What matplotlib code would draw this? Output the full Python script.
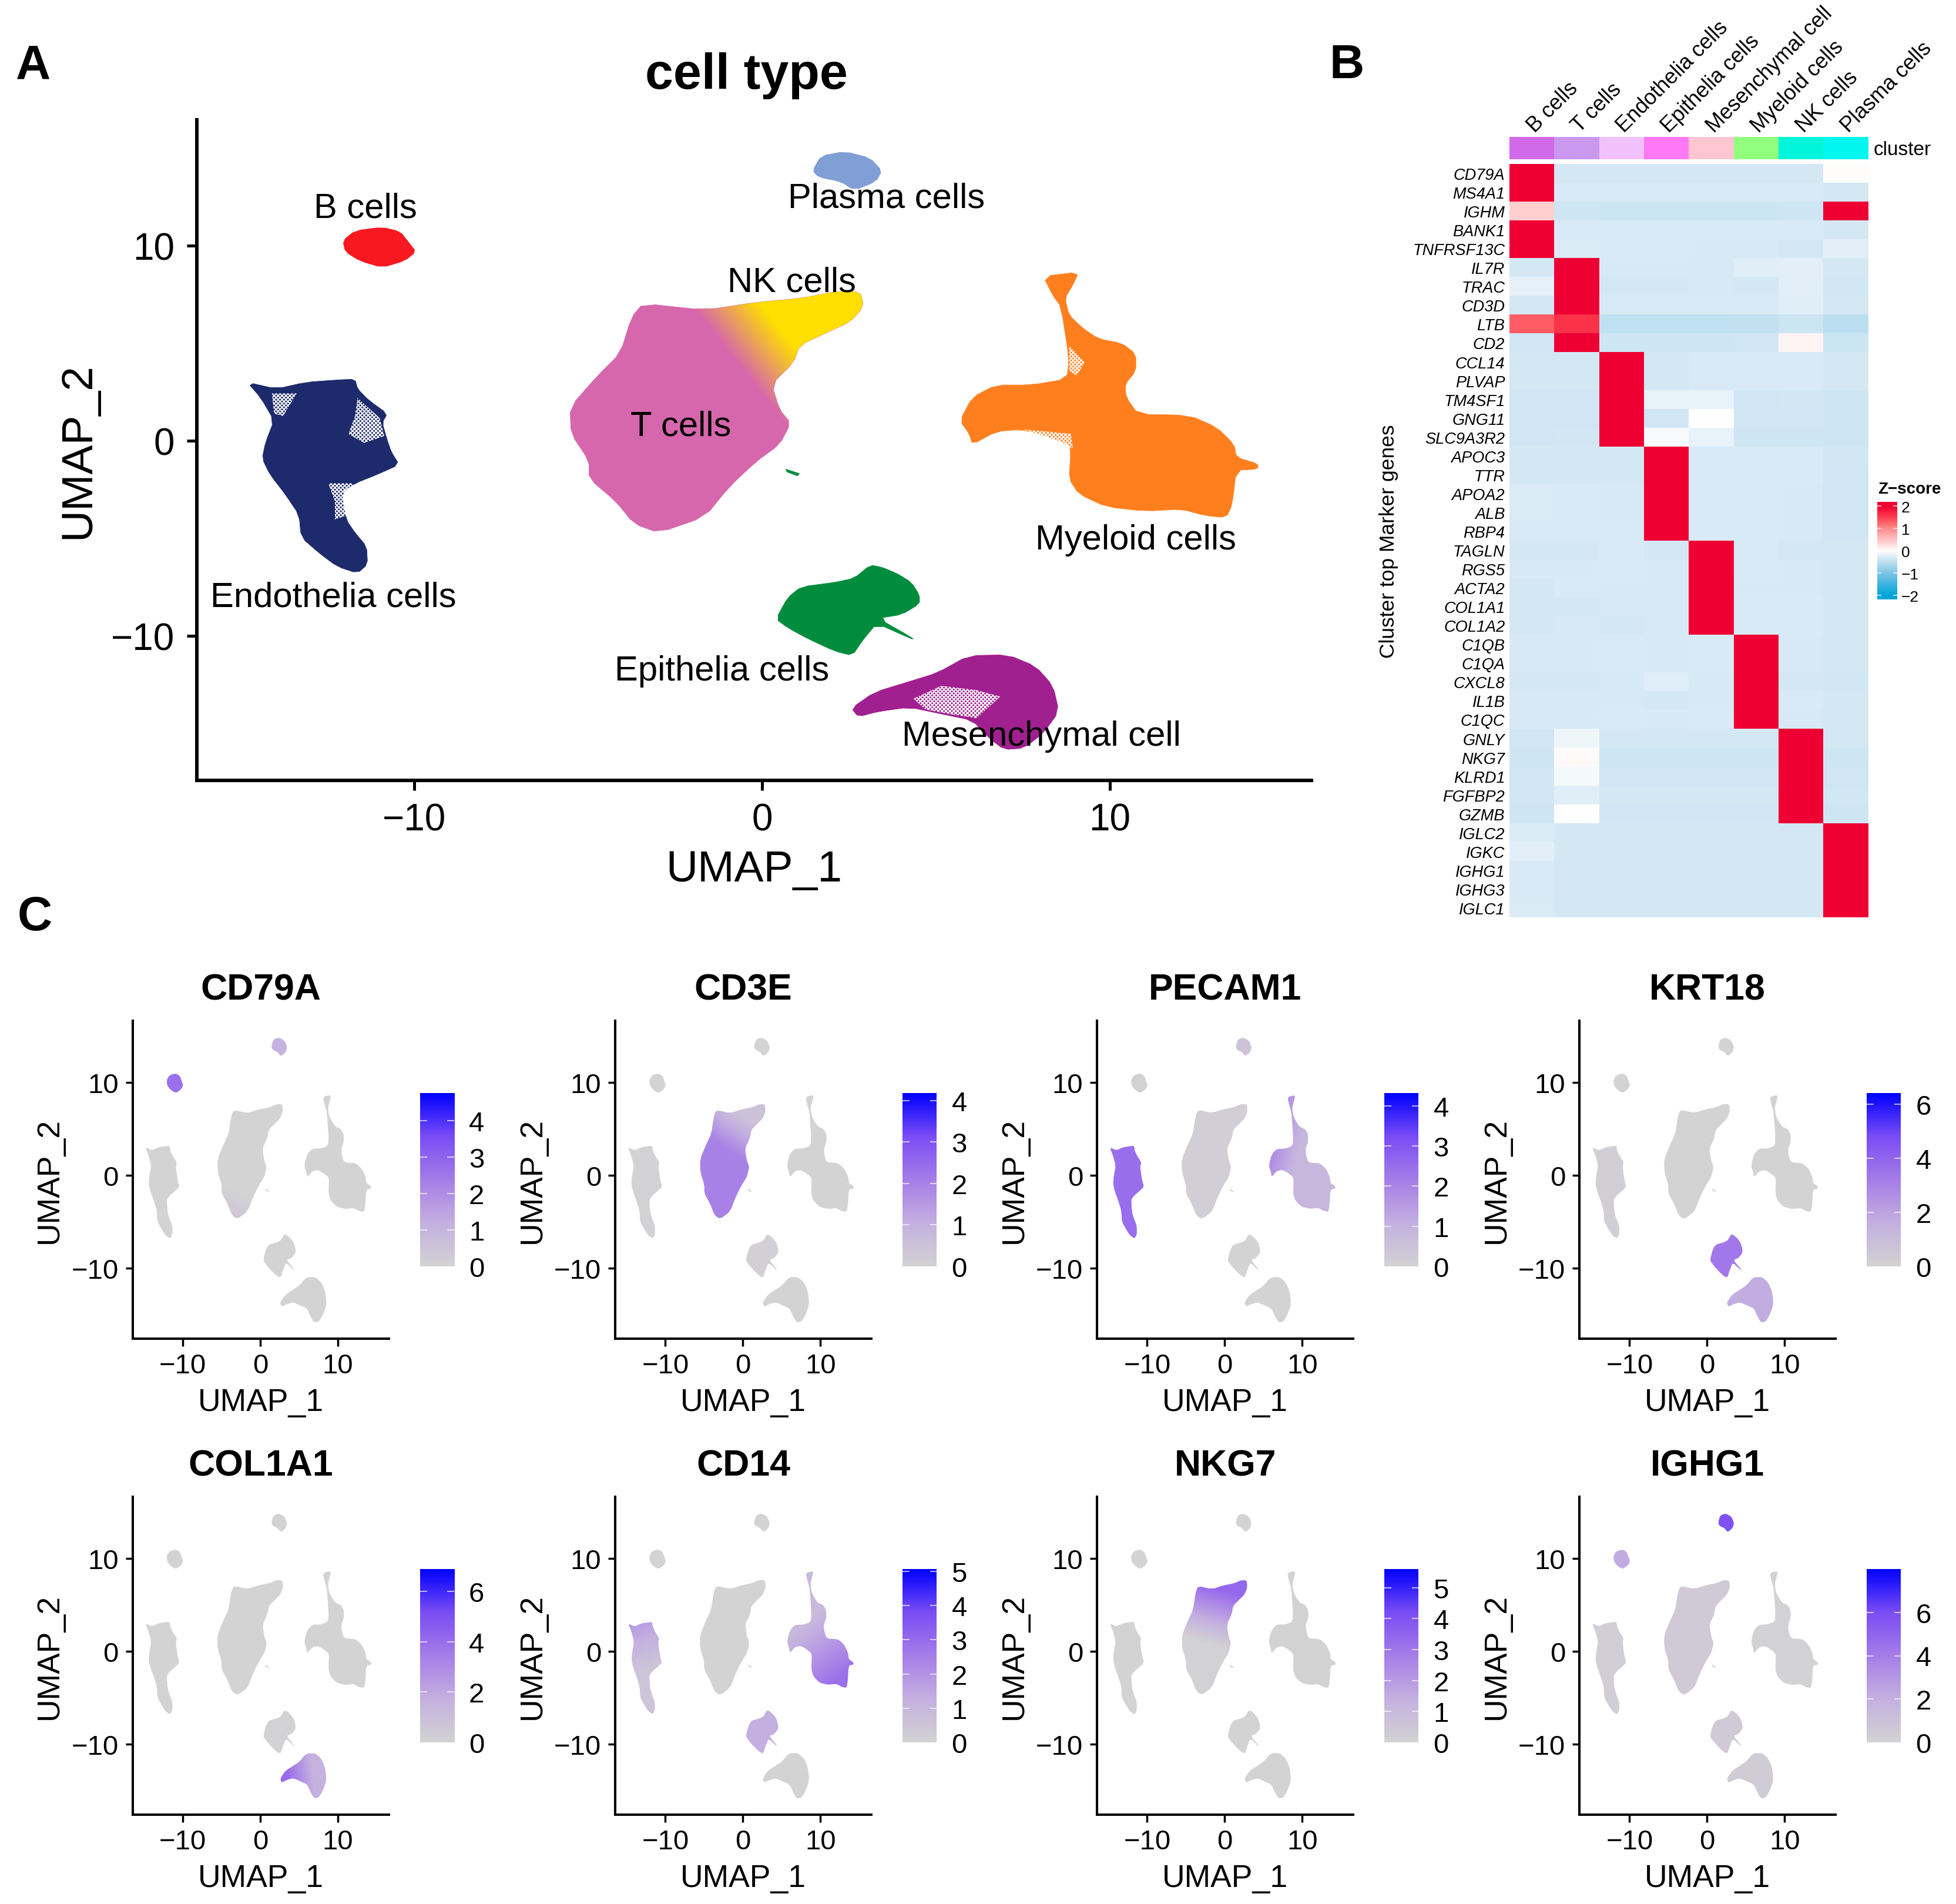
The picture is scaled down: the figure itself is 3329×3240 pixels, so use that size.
import numpy as np
import matplotlib
matplotlib.use("Agg")
import matplotlib.pyplot as plt
from matplotlib.colors import LinearSegmentedColormap, ListedColormap
from matplotlib.patches import Polygon
from matplotlib.transforms import ScaledTranslation

plt.rcParams['font.family'] = ['Liberation Sans', 'DejaVu Sans']
plt.rcParams['hatch.linewidth'] = 1.3

W, H = 3329, 3241
DPI = 100

# ---------- cluster outlines in UMAP coordinates ----------
B_CELLS = [(-12.05,10.26),(-11.70,10.77),(-10.92,10.95),(-10.40,10.72),(-10.15,10.15),(-9.95,9.69),
           (-10.27,9.23),(-10.92,8.88),(-11.57,9.23),(-11.98,9.69)]
ENDOTHELIA = [(-14.80,3.00),(-13.96,2.66),(-13.12,3.0),(-12.21,3.12),(-11.70,3.16),(-11.63,2.66),(-11.31,2.08),
              (-10.77,1.39),(-10.92,0.93),(-10.79,0.12),(-10.66,-0.57),(-10.43,-1.22),(-11.05,-1.72),(-11.70,-2.18),
              (-12.09,-2.65),(-11.96,-4.03),(-11.70,-4.72),(-11.37,-5.41),(-11.34,-6.33),(-11.63,-6.79),(-12.21,-6.45),
              (-12.73,-5.76),(-13.25,-4.95),(-13.31,-3.8),(-13.70,-2.76),(-14.15,-1.72),(-14.37,-0.92),(-14.28,-0.11),
              (-14.03,1.04),(-14.41,2.2)]
T_NK = [(-1.64,6.70),(-0.17,7.10),(1.19,7.32),(2.10,7.65),(2.83,7.65),(2.92,6.88),(2.55,6.11),(1.87,5.55),(1.08,4.89),
        (0.91,4.01),(0.28,2.90),(0.51,1.58),(0.83,0.92),(0.51,-0.19),(-0.17,-1.07),(-0.96,-2.40),(-1.64,-3.9),
        (-2.97,-4.72),(-3.68,-4.26),(-4.20,-3.11),(-4.97,-1.95),(-4.97,-1.03),(-5.49,0.35),(-5.52,1.73),(-4.72,3.35),
        (-4.07,4.50),(-3.75,6.34),(-3.42,7.04)]
PLASMA = [(1.45,13.84),(1.70,14.61),(2.38,14.83),(3.11,14.50),(3.45,13.84),(3.28,13.29),(2.66,12.84),(2.26,13.29),(1.64,13.51)]
MYELOID = [(8.09,8.43),(9.11,8.65),(8.94,7.98),(8.71,7.32),(8.83,6.44),(9.22,5.78),(9.68,5.22),(10.35,5.0),(10.75,4.45),
           (10.75,3.57),(10.44,2.90),(10.47,2.24),(10.81,1.36),(12.28,1.31),(13.07,0.70),(13.58,-0.19),(13.64,-0.85),
           (14.26,-1.18),(14.26,-1.45),(13.64,-1.51),(13.52,-3.28),(13.35,-3.94),(12.73,-3.83),(12.05,-3.50),(11.03,-3.61),
           (9.90,-3.39),(9.11,-2.73),(8.83,-1.96),(8.88,-0.63),(8.83,-0.19),(7.98,0.36),(7.41,0.58),(6.73,0.47),(6.05,-0.19),
           (5.96,0.36),(5.69,1.03),(6.05,2.24),(6.73,2.86),(7.75,2.86),(8.77,3.17),(8.83,4.23),(8.60,6.88),(8.37,7.43)]
EPITHELIA = [(0.40,-9.14),(0.74,-8.03),(1.13,-7.48),(2.10,-7.26),(2.66,-7.04),(3.11,-6.37),(3.45,-6.48),(3.90,-6.82),
             (4.30,-7.26),(4.53,-7.92),(4.53,-8.36),(4.02,-8.91),(3.34,-9.10),(4.36,-10.14),(4.30,-10.16),(3.30,-9.36),(2.89,-10.24),
             (2.60,-11.01),(2.10,-10.79),(1.30,-10.13),(0.74,-9.58)]
MESENCHYMAL = [(2.57,-13.71),(3.23,-12.89),(4.24,-12.34),(5.04,-11.90),(5.94,-11.01),(7.07,-10.97),(7.87,-11.56),(8.37,-12.56),
               (8.54,-13.88),(8.09,-14.99),(7.53,-15.76),(6.96,-15.83),(6.51,-15.21),(6.05,-14.33),(5.15,-14.0),(4.24,-13.66),
               (3.34,-13.88),(2.77,-14.15)]
EPITHELIA_SPECK = [(0.68,-1.45),(1.08,-1.68),(1.02,-1.80),(0.72,-1.60)]

# sparse, speckled zones inside the clusters
SPARSE_ZONES = [
    [(-11.63,2.2),(-10.99,1.16),(-10.86,0.24),(-11.44,-0.11),(-11.89,0.35),(-11.70,1.27)],
    [(-12.47,-2.18),(-11.76,-2.18),(-11.89,-3.8),(-12.28,-4.03),(-12.28,-3.1)],
    [(-14.09,2.43),(-13.38,2.43),(-13.77,1.27),(-14.03,1.39)],
    [(4.36,-13.22),(5.15,-12.56),(6.17,-12.78),(6.85,-13.11),(6.17,-14.22),(5.38,-14.0),(4.70,-13.77)],
    [(8.83,4.89),(9.28,4.01),(9.05,3.35),(8.83,3.57)],
    [(7.53,0.58),(8.88,0.36),(8.94,-0.41),(7.98,0.25)],
]

CLUSTER_OUTLINES = [B_CELLS, ENDOTHELIA, T_NK, PLASMA, MYELOID, EPITHELIA, MESENCHYMAL]
CLUSTER_COLOURS = ['#F8181F', '#1D2A6B', '#D667AC', '#80A0D5', '#FF7F1E', '#008C3C', '#A0208F']
NK_COLOUR = '#FFDF00'

MAIN_LABELS = ['B cells', 'Plasma cells', 'NK cells', 'T cells', 'Myeloid cells', 'Endothelia cells', 'Epithelia cells', 'Mesenchymal cell']
MAIN_LABEL_X = [-11.4, 3.58, 0.86, -2.33, 10.75, -12.33, -1.15, 8.03]
MAIN_LABEL_Y = [11.92, 12.43, 8.14, 0.77, -5.07, -8.01, -11.80, -15.13]

# ---------- heatmap ----------
GENES = ['CD79A','MS4A1','IGHM','BANK1','TNFRSF13C','IL7R','TRAC','CD3D','LTB','CD2','CCL14','PLVAP','TM4SF1','GNG11','SLC9A3R2',
         'APOC3','TTR','APOA2','ALB','RBP4','TAGLN','RGS5','ACTA2','COL1A1','COL1A2','C1QB','C1QA','CXCL8','IL1B','C1QC',
         'GNLY','NKG7','KLRD1','FGFBP2','GZMB','IGLC2','IGKC','IGHG1','IGHG3','IGLC1']
HEAT_COLUMNS = ['B cells','T cells','Endothelia cells','Epithelia cells','Mesenchymal cell','Myeloid cells','NK cells','Plasma cells']
HEAT_COLUMN_COLOURS = ['#D16AE9','#CB98F0','#F1C1FC','#FF79F6','#FFC5D0','#91FE7E','#00F5DA','#00F6EF']
HEAT_Z = [
 [2,-.34,-.34,-.34,-.34,-.34,-.34,.02],
 [2,-.31,-.31,-.31,-.31,-.31,-.31,-.33],
 [.38,-.39,-.40,-.40,-.40,-.40,-.39,2],
 [2,-.31,-.31,-.31,-.31,-.30,-.30,-.33],
 [2,-.29,-.31,-.31,-.32,-.32,-.33,-.22],
 [-.33,2,-.32,-.32,-.32,-.25,-.22,-.33],
 [-.20,2,-.33,-.33,-.32,-.33,-.22,-.35],
 [-.33,2,-.31,-.31,-.31,-.31,-.24,-.33],
 [1.3,1.6,-.50,-.50,-.50,-.47,-.40,-.52],
 [-.36,2,-.38,-.38,-.38,-.36,.09,-.40],
 [-.33,-.33,2,-.33,-.30,-.30,-.30,-.33],
 [-.34,-.33,2,-.33,-.30,-.31,-.31,-.34],
 [-.37,-.36,2,-.18,-.18,-.36,-.35,-.38],
 [-.36,-.36,2,-.37,0,-.36,-.36,-.38],
 [-.36,-.35,2,-.07,-.18,-.38,-.38,-.38],
 [-.33,-.33,-.33,2,-.30,-.30,-.30,-.35],
 [-.33,-.33,-.33,2,-.31,-.31,-.31,-.36],
 [-.29,-.31,-.32,2,-.31,-.31,-.32,-.37],
 [-.29,-.31,-.32,2,-.31,-.30,-.32,-.37],
 [-.31,-.31,-.31,2,-.31,-.30,-.32,-.36],
 [-.33,-.33,-.31,-.33,2,-.31,-.33,-.33],
 [-.32,-.32,-.31,-.32,2,-.31,-.32,-.33],
 [-.33,-.31,-.32,-.32,2,-.32,-.32,-.33],
 [-.33,-.33,-.32,-.32,2,-.31,-.31,-.33],
 [-.33,-.32,-.33,-.32,2,-.31,-.31,-.33],
 [-.32,-.32,-.31,-.32,-.31,2,-.32,-.33],
 [-.32,-.32,-.31,-.32,-.31,2,-.32,-.33],
 [-.33,-.33,-.32,-.26,-.32,2,-.34,-.35],
 [-.32,-.32,-.32,-.33,-.32,2,-.31,-.33],
 [-.32,-.32,-.31,-.32,-.31,2,-.32,-.33],
 [-.36,-.14,-.34,-.33,-.33,-.33,2,-.33],
 [-.38,.04,-.39,-.39,-.38,-.38,2,-.39],
 [-.36,-.09,-.37,-.36,-.36,-.36,2,-.36],
 [-.36,-.25,-.34,-.34,-.34,-.34,2,-.35],
 [-.39,-.01,-.37,-.37,-.37,-.37,2,-.38],
 [-.27,-.33,-.33,-.33,-.33,-.33,-.33,2],
 [-.23,-.33,-.33,-.33,-.33,-.33,-.33,2],
 [-.31,-.33,-.33,-.33,-.33,-.33,-.33,2],
 [-.31,-.33,-.33,-.33,-.33,-.33,-.33,2],
 [-.29,-.33,-.33,-.33,-.33,-.33,-.33,2],
]
Z_TICKS = [-2, -1, 0, 1, 2]

# ---------- feature panels: expression per cluster (B, Endothelia, T/NK, Plasma, Myeloid, Epithelia, Mesenchymal) ----------
PANEL_GENES = ['CD79A','CD3E','PECAM1','KRT18','COL1A1','CD14','NKG7','IGHG1']
PANEL_MAX = [4.75, 4.18, 4.32, 6.41, 6.9, 5.07, 5.6, 8.0]
PANEL_TICKS = [[0,1,2,3,4],[0,1,2,3,4],[0,1,2,3,4],[0,2,4,6],[0,2,4,6],[0,1,2,3,4,5],[0,1,2,3,4,5],[0,2,4,6]]
EXPR_CD79A = [2.7, 0, 0, 1.1, 0, 0, 0]
EXPR_CD3E = [0, 0.05, 1.9, 0, 0, 0.1, 0]
EXPR_PECAM1 = [0.05, 2.5, 0.15, 0.5, 0.9, 0, 0]
EXPR_KRT18 = [0, 0.2, 0, 0, 0, 3.4, 1.7]
EXPR_COL1A1 = [0, 0, 0, 0, 0, 0.1, 2.0]
EXPR_CD14 = [0, 0.6, 0, 0, 2.0, 1.3, 0]
EXPR_NKG7 = [0, 0, 1.0, 0, 0.05, 0, 0]
EXPR_IGHG1 = [2.2, 0.25, 0.5, 5.8, 0.15, 0.5, 0.4]
PANEL_EXPR = [EXPR_CD79A, EXPR_CD3E, EXPR_PECAM1, EXPR_KRT18, EXPR_COL1A1, EXPR_CD14, EXPR_NKG7, EXPR_IGHG1]
# expression that changes across a cluster: gene -> {cluster index: (x0, y0, v0, x1, y1, v1)}
PANEL_TRENDS = {
    'CD79A': {2: (-2, -2, 0, -3, -5, 0.45)},
    'CD3E': {2: (0.5, 6.2, 0.5, -1.5, 2.5, 2.0)},
    'PECAM1': {4: (6.2, 2.0, 1.8, 9.2, 1.2, 0.85)},
    'COL1A1': {6: (3.2, -13.5, 4.2, 6.8, -13, 1.6)},
    'CD14': {4: (8.5, 3.5, 0.9, 12.5, -3, 2.9), 1: (-14.5, 3, 1.8, -13, -2, 0.55)},
    'NKG7': {2: (-0.8, 0.5, 0.05, 0.6, 6.4, 3.4)},
}

GREY_BLUE = LinearSegmentedColormap.from_list('greyblue', [(0,'#D3D3D3'),(.25,'#C4B0E0'),(.5,'#A67DE8'),(.75,'#7A4DF5'),(1,'#0000FF')])
HEAT_CMAP = LinearSegmentedColormap.from_list('heat', [(0,'#00A5D8'),(.25,'#7FC5E5'),(.4175,'#D5E9F5'),(.5,'#FFFFFF'),
                                                       (.595,'#FFD0D0'),(.75,'#FF8A8A'),(.875,'#FF4050'),(1,'#EE0033')])


def smooth(points):
    p = np.asarray(points, float)
    q = np.roll(p, -1, axis=0)
    return np.column_stack([0.8 * p + 0.2 * q, 0.2 * p + 0.8 * q]).reshape(-1, 2)


def box(fig, left, top, right, bottom):
    return fig.add_axes([left / W, 1 - bottom / H, (right - left) / W, (bottom - top) / H])


def style_umap(ax, spine_w, tick_len, tick_w, tick_size, pad):
    for s in ('top', 'right'):
        ax.spines[s].set_visible(False)
    for s in ('left', 'bottom'):
        ax.spines[s].set_linewidth(spine_w)
    ax.set_xticks([-10, 0, 10])
    ax.set_yticks([-10, 0, 10])
    ax.tick_params(length=tick_len, width=tick_w, labelsize=tick_size, pad=pad)


def gradient(ax, outline, trend, cmap, vmax, xlim, ylim):
    x0, y0, v0, x1, y1, v1 = trend
    X, Y = np.meshgrid(np.linspace(*xlim, 400), np.linspace(*ylim, 400))
    dx, dy = x1 - x0, y1 - y0
    t = np.clip(((X - x0) * dx + (Y - y0) * dy) / (dx * dx + dy * dy), 0, 1)
    im = ax.imshow(v0 + t * (v1 - v0), origin='lower', extent=(*xlim, *ylim), cmap=cmap, vmin=0, vmax=vmax,
                   aspect='auto', interpolation='bilinear')
    patch = Polygon(smooth(outline), closed=True, fc='none', ec='none', transform=ax.transData)
    ax.add_patch(patch)
    im.set_clip_path(patch)


fig = plt.figure(figsize=(W / DPI, H / DPI), dpi=DPI, facecolor='white')

# ---------- panel A ----------
ax = box(fig, 335, 205, 2232, 1329)
xlim, ylim = (-16.25, 15.8), (-17.41, 16.45)
for outline, colour in zip(CLUSTER_OUTLINES, CLUSTER_COLOURS):
    ax.add_patch(Polygon(smooth(outline), closed=True, fc=colour, ec=colour, lw=0.6))
ax.add_patch(Polygon(EPITHELIA_SPECK, closed=True, fc=CLUSTER_COLOURS[5], ec=CLUSTER_COLOURS[5], lw=0.5))
# NK cells blending into the T cell cluster
X, Y = np.meshgrid(np.linspace(*xlim, 900), np.linspace(*ylim, 900))
alpha = np.clip(((X + 1.5) * 4.5 + (Y - 7) * 2 + 2.5) / 9, 0, 1)
rgba = np.zeros(X.shape + (4,))
rgba[..., :3] = matplotlib.colors.to_rgb(NK_COLOUR)
rgba[..., 3] = alpha
im = ax.imshow(rgba, origin='lower', extent=(*xlim, *ylim), aspect='auto', interpolation='bilinear', zorder=2)
clip = Polygon(smooth(T_NK), closed=True, fc='none', ec='none', transform=ax.transData)
ax.add_patch(clip)
im.set_clip_path(clip)
for zone in SPARSE_ZONES:
    ax.add_patch(Polygon(zone, closed=True, fc='none', ec='white', lw=0, hatch='xxxxx', zorder=3))
for name, x, y in zip(MAIN_LABELS, MAIN_LABEL_X, MAIN_LABEL_Y):
    ax.text(x, y, name, fontsize=43, ha='center', va='center', color='black', zorder=6)
ax.set_xlim(xlim)
ax.set_ylim(ylim)
style_umap(ax, 4.3, 12, 3.6, 46, 15)
ax.set_xlabel('UMAP_1', fontsize=54, labelpad=14)
ax.set_ylabel('UMAP_2', fontsize=54, labelpad=16)
fig.text(1270 / W, 1 - 129 / H, 'cell type', fontsize=62, fontweight='bold', ha='center', va='center')

fig.text(57 / W, 1 - 112 / H, 'A', fontsize=59, fontweight='bold', ha='center', va='center')
fig.text(2292 / W, 1 - 112 / H, 'B', fontsize=59, fontweight='bold', ha='center', va='center')
fig.text(59 / W, 1 - 1562 / H, 'C', fontsize=59, fontweight='bold', ha='center', va='center')

# ---------- panel B ----------
hm = box(fig, 2569, 280, 3180, 1562)
hm.imshow(np.array(HEAT_Z), cmap=HEAT_CMAP, vmin=-2, vmax=2, aspect='auto', interpolation='nearest')
hm.set_xticks([])
hm.set_yticks(range(len(GENES)))
hm.set_yticklabels(GENES, fontsize=19.5, fontstyle='italic')
hm.tick_params(axis='y', length=0, pad=5.5)
for s in hm.spines.values():
    s.set_visible(False)
hm.set_ylabel('Cluster top Marker genes', fontsize=25.5, labelpad=0)
hm.yaxis.set_label_coords((2380 - 2569) / (3180 - 2569), 0.5)

ann = box(fig, 2569, 234, 3180, 272)
ann.imshow(np.arange(len(HEAT_COLUMNS)).reshape(1, -1), cmap=ListedColormap(HEAT_COLUMN_COLOURS), aspect='auto', interpolation='nearest')
ann.set_yticks([])
ann.set_xticks(range(len(HEAT_COLUMNS)))
ann.set_xticklabels(HEAT_COLUMNS, fontsize=26, rotation=45, ha='left', va='bottom', rotation_mode='anchor')
ann.tick_params(axis='x', length=0, top=True, labeltop=True, bottom=False, labelbottom=False, pad=1)
shift = ScaledTranslation(10 / DPI, 0, fig.dpi_scale_trans)
for lab in ann.get_xticklabels():
    lab.set_transform(lab.get_transform() + shift)
for s in ann.spines.values():
    s.set_visible(False)
fig.text(3189 / W, 1 - 256 / H, 'cluster', fontsize=24, ha='left', va='center')

cz = box(fig, 3195, 855, 3229, 1021)
span = 166 / 38
cz.imshow(np.linspace(span / 2, -span / 2, 256).reshape(-1, 1), cmap=HEAT_CMAP, vmin=-2, vmax=2, aspect='auto',
          extent=(0, 1, -span / 2, span / 2), interpolation='bilinear')
cz.set_xticks([])
cz.yaxis.tick_right()
cz.set_yticks(Z_TICKS)
cz.tick_params(axis='y', length=0, labelsize=19, pad=5)
cz.hlines(Z_TICKS, 0, 0.22, color='white', lw=1.2, alpha=.8)
cz.hlines(Z_TICKS, 0.78, 1, color='white', lw=1.2, alpha=.8)
for s in cz.spines.values():
    s.set_visible(False)
fig.text(3196 / W, 1 - 833 / H, 'Z\u2212score', fontsize=20, fontweight='bold', ha='left', va='center')

# ---------- panel C ----------
LEFTS = [225.6, 1047, 1867, 2688]
TOPS = [1738, 2548]
BOTTOMS = [2279, 3089]
pxlim, pylim = (-16.47, 16.6), (-17.6, 16.65)
for i, gene in enumerate(PANEL_GENES):
    col, row = i % 4, i // 4
    left = LEFTS[col]
    ax = box(fig, left, TOPS[row], left + 436.4, BOTTOMS[row])
    vmax = PANEL_MAX[i]
    trends = PANEL_TRENDS.get(gene, {})
    for k, outline in enumerate(CLUSTER_OUTLINES):
        if k in trends:
            gradient(ax, outline, trends[k], GREY_BLUE, vmax, pxlim, pylim)
        else:
            colour = GREY_BLUE(PANEL_EXPR[i][k] / vmax)
            ax.add_patch(Polygon(smooth(outline), closed=True, fc=colour, ec=colour, lw=0.4))
    ax.add_patch(Polygon(EPITHELIA_SPECK, closed=True, fc='#D3D3D3', ec='#D3D3D3', lw=0.3))
    ax.set_xlim(pxlim)
    ax.set_ylim(pylim)
    style_umap(ax, 2.9, 9, 2.5, 34, 8)
    ax.set_xlabel('UMAP_1', fontsize=38.5, labelpad=11)
    ax.set_ylabel('UMAP_2', fontsize=38.5, labelpad=9)
    ax.set_title(gene, fontsize=45, fontweight='bold', pad=26)

    cb = box(fig, left + 489.4, TOPS[row] + 123, left + 547.4, TOPS[row] + 418)
    cb.imshow(np.linspace(vmax, 0, 256).reshape(-1, 1), cmap=GREY_BLUE, vmin=0, vmax=vmax, aspect='auto',
              extent=(0, 1, 0, vmax), interpolation='bilinear')
    cb.set_xticks([])
    cb.yaxis.tick_right()
    cb.set_yticks(PANEL_TICKS[i])
    cb.tick_params(axis='y', length=0, labelsize=34, pad=18)
    cb.hlines(PANEL_TICKS[i][1:], 0, 0.2, color='white', lw=1.2, alpha=.8)
    cb.hlines(PANEL_TICKS[i][1:], 0.8, 1, color='white', lw=1.2, alpha=.8)
    for s in cb.spines.values():
        s.set_visible(False)

fig.savefig('out.png', dpi=DPI)
